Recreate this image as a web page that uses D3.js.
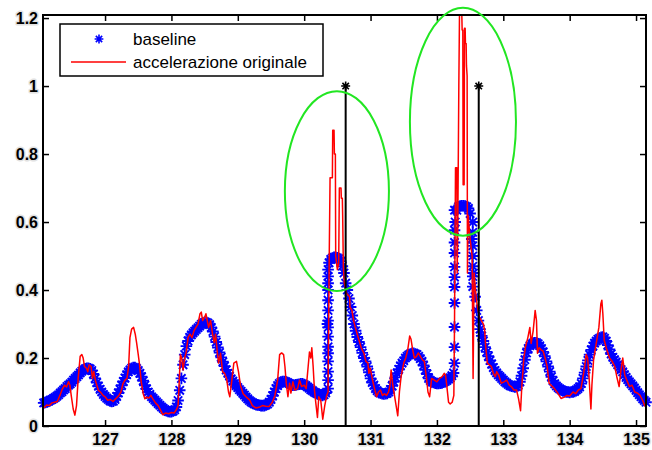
<!DOCTYPE html>
<html>
<head>
<meta charset="utf-8">
<script src="https://cdn.jsdelivr.net/npm/d3@7"></script>
<style>
  body { margin: 0; background: #fff; }
  svg { display: block; }
  text { font-family: Arial, "Liberation Sans", sans-serif; }
</style>
</head>
<body>
<svg id="chart" width="652" height="450"></svg>
<script>
// ---- axis ticks ----
const xTicks = [127, 128, 129, 130, 131, 132, 133, 134, 135];
const yTicks = [0, 0.2, 0.4, 0.6, 0.8, 1, 1.2];
const yTickLabels = ["0", "0.2", "0.4", "0.6", "0.8", "1", "1.2"];

// ---- baseline, one sample every 0.025 s starting at 126.075 s ----
const baselineStart = 126.075;
const baselineStep = 0.025;
const baselineValues = [
  0.068,0.069,0.071,0.073,0.076,0.078,0.081,0.084,0.088,0.092,0.097,0.101,0.106,0.110,0.116,0.120,0.124,0.129,0.135,0.140,
  0.145,0.150,0.156,0.161,0.165,0.168,0.170,0.170,0.168,0.163,0.153,0.140,0.128,0.117,0.108,0.100,0.093,0.087,0.082,0.078,
  0.074,0.072,0.073,0.078,0.087,0.097,0.108,0.120,0.131,0.141,0.151,0.159,0.165,0.170,0.172,0.172,0.169,0.163,0.155,0.145,
  0.133,0.120,0.109,0.100,0.093,0.086,0.081,0.076,0.071,0.066,0.061,0.056,0.052,0.048,0.045,0.043,0.042,0.042,0.044,0.048,
  0.056,0.075,0.105,0.140,0.180,0.210,0.235,0.250,0.261,0.268,0.274,0.279,0.284,0.289,0.294,0.299,0.303,0.305,0.305,0.303,
  0.298,0.290,0.278,0.263,0.247,0.231,0.216,0.202,0.189,0.176,0.165,0.155,0.147,0.139,0.132,0.125,0.119,0.113,0.107,0.102,
  0.096,0.091,0.085,0.080,0.075,0.071,0.068,0.065,0.063,0.062,0.061,0.060,0.060,0.060,0.062,0.065,0.070,0.078,0.089,0.100,
  0.110,0.119,0.125,0.129,0.131,0.131,0.130,0.128,0.125,0.122,0.120,0.120,0.121,0.122,0.123,0.124,0.124,0.122,0.119,0.115,
  0.111,0.107,0.104,0.100,0.097,0.095,0.093,0.091,0.090,0.092,0.097,0.300,0.480,0.490,0.494,0.496,0.496,0.495,0.492,0.485,
  0.470,0.450,0.420,0.400,0.375,0.350,0.325,0.300,0.280,0.262,0.247,0.232,0.215,0.200,0.190,0.175,0.158,0.140,0.128,0.120,
  0.110,0.104,0.099,0.097,0.095,0.094,0.095,0.096,0.100,0.107,0.118,0.130,0.143,0.155,0.167,0.177,0.185,0.192,0.200,0.205,
  0.209,0.212,0.214,0.214,0.212,0.210,0.205,0.198,0.190,0.178,0.165,0.153,0.140,0.134,0.130,0.128,0.126,0.125,0.125,0.126,
  0.127,0.129,0.131,0.134,0.138,0.142,0.148,0.156,0.600,0.635,0.645,0.647,0.648,0.648,0.647,0.645,0.640,0.625,0.550,0.450,
  0.380,0.340,0.310,0.285,0.265,0.250,0.232,0.218,0.205,0.193,0.182,0.172,0.163,0.156,0.150,0.145,0.140,0.135,0.130,0.126,
  0.122,0.119,0.117,0.116,0.115,0.116,0.120,0.130,0.148,0.170,0.195,0.215,0.228,0.236,0.241,0.244,0.245,0.245,0.242,0.236,
  0.228,0.218,0.205,0.190,0.175,0.160,0.145,0.133,0.124,0.118,0.113,0.109,0.106,0.104,0.102,0.100,0.100,0.099,0.100,0.100,
  0.102,0.106,0.110,0.115,0.125,0.140,0.157,0.175,0.193,0.210,0.224,0.235,0.244,0.250,0.255,0.258,0.261,0.262,0.258,0.250,
  0.238,0.225,0.212,0.202,0.195,0.188,0.180,0.173,0.166,0.159,0.151,0.143,0.136,0.130,0.124,0.118,0.112,0.105,0.098,0.092,
  0.086,0.080,0.075,0.070
];

// extra baseline samples bunched on the three steep edges
const baselineEdgeTimes = [130.36, 132.265, 132.54];
const baselineEdgeValues = [
  [0.11,0.135,0.16,0.19,0.214,0.233,0.263,0.29,0.31,0.34,0.37,0.40,0.42,0.44,0.46],
  [0.185,0.232,0.291,0.362,0.409,0.438,0.468,0.509,0.54,0.576,0.635],
  [0.60,0.57,0.53,0.50,0.47,0.44,0.41]
];

// original acceleration trace: [time (s), value]
const accel = [
  [126.065,0.055],[126.09,0.055],[126.12,0.062],[126.16,0.06],[126.2,0.068],[126.24,0.07],[126.28,0.072],[126.32,0.09],
  [126.35,0.106],[126.39,0.12],[126.42,0.115],[126.45,0.13],[126.47,0.12],[126.49,0.09],[126.52,0.05],[126.545,0.032],
  [126.57,0.06],[126.595,0.14],[126.625,0.205],[126.65,0.21],[126.67,0.2],[126.69,0.175],[126.72,0.17],[126.74,0.16],
  [126.76,0.18],[126.79,0.175],[126.81,0.14],[126.83,0.16],[126.86,0.13],[126.9,0.105],[126.93,0.1],[126.97,0.09],
  [127.0,0.086],[127.04,0.076],[127.08,0.078],[127.12,0.072],[127.16,0.08],[127.2,0.088],[127.24,0.1],[127.27,0.125],
  [127.3,0.135],[127.33,0.14],[127.355,0.175],[127.375,0.26],[127.4,0.285],[127.43,0.29],[127.455,0.27],[127.475,0.245],
  [127.5,0.21],[127.52,0.18],[127.545,0.13],[127.575,0.095],[127.6,0.08],[127.63,0.085],[127.66,0.082],[127.69,0.09],
  [127.72,0.08],[127.76,0.068],[127.8,0.06],[127.84,0.045],[127.87,0.033],[127.91,0.038],[127.96,0.036],[128.0,0.04],
  [128.04,0.038],[128.08,0.05],[128.1,0.06],[128.115,0.12],[128.135,0.21],[128.155,0.2],[128.175,0.165],[128.2,0.2],
  [128.225,0.22],[128.25,0.26],[128.28,0.27],[128.31,0.26],[128.34,0.28],[128.37,0.29],[128.4,0.3],[128.43,0.33],
  [128.45,0.335],[128.47,0.31],[128.5,0.32],[128.52,0.33],[128.54,0.31],[128.56,0.29],[128.59,0.31],[128.62,0.27],
  [128.645,0.245],[128.665,0.27],[128.69,0.22],[128.71,0.185],[128.74,0.214],[128.77,0.16],[128.8,0.155],[128.83,0.14],
  [128.86,0.1],[128.88,0.086],[128.91,0.135],[128.94,0.185],[128.98,0.19],[129.01,0.16],[129.04,0.12],[129.08,0.095],
  [129.13,0.085],[129.18,0.076],[129.22,0.06],[129.27,0.053],[129.32,0.055],[129.37,0.06],[129.42,0.058],[129.47,0.057],
  [129.52,0.07],[129.56,0.09],[129.6,0.135],[129.63,0.21],[129.66,0.215],[129.69,0.21],[129.71,0.175],[129.73,0.126],
  [129.755,0.086],[129.78,0.126],[129.8,0.097],[129.83,0.13],[129.86,0.106],[129.9,0.11],[129.93,0.135],[129.96,0.116],
  [130.0,0.12],[130.03,0.11],[130.06,0.175],[130.08,0.218],[130.1,0.2],[130.115,0.23],[130.135,0.175],[130.155,0.106],
  [130.175,0.068],[130.2,0.025],[130.22,0.086],[130.25,0.075],[130.28,0.02],[130.31,0.06],[130.34,0.09],[130.36,0.1],
  [130.375,0.45],[130.39,0.73],[130.425,0.73],[130.43,0.87],[130.45,0.87],[130.455,0.8],[130.47,0.8],[130.475,0.5],
  [130.5,0.46],[130.52,0.48],[130.53,0.7],[130.555,0.7],[130.56,0.67],[130.575,0.67],[130.58,0.62],[130.59,0.47],
  [130.605,0.42],[130.64,0.39],[130.685,0.38],[130.69,0.35],[130.72,0.34],[130.745,0.31],[130.77,0.29],[130.8,0.27],
  [130.83,0.25],[130.86,0.23],[130.9,0.214],[130.93,0.19],[130.96,0.185],[130.975,0.155],[130.995,0.17],[131.03,0.135],
  [131.06,0.11],[131.09,0.086],[131.12,0.1],[131.15,0.106],[131.18,0.09],[131.21,0.095],[131.24,0.09],[131.27,0.1],
  [131.29,0.116],[131.31,0.165],[131.335,0.12],[131.36,0.09],[131.385,0.06],[131.41,0.03],[131.435,0.1],[131.46,0.145],
  [131.5,0.185],[131.53,0.2],[131.56,0.224],[131.59,0.265],[131.61,0.255],[131.635,0.224],[131.66,0.2],[131.69,0.204],
  [131.72,0.215],[131.75,0.205],[131.78,0.195],[131.81,0.19],[131.84,0.145],[131.865,0.1],[131.89,0.086],[131.92,0.14],
  [131.96,0.135],[132.0,0.13],[132.04,0.14],[132.08,0.145],[132.11,0.155],[132.13,0.15],[132.15,0.116],[132.175,0.07],
  [132.2,0.065],[132.23,0.07],[132.255,0.09],
  [132.265,0.3],[132.28,0.76],[132.3,0.76],[132.305,0.45],[132.315,0.6],[132.33,1.0],[132.34,1.21],[132.375,1.21],
  [132.38,1.165],[132.39,1.165],[132.395,0.71],[132.41,0.71],[132.415,1.17],[132.425,1.17],[132.43,1.125],[132.44,1.125],
  [132.445,1.06],[132.455,1.03],[132.46,0.45],[132.47,0.62],[132.5,0.55],[132.53,0.5],[132.545,0.14],[132.56,0.45],
  [132.58,0.4],[132.61,0.35],[132.64,0.32],[132.67,0.31],[132.7,0.3],[132.72,0.28],[132.735,0.233],[132.76,0.185],
  [132.79,0.18],[132.82,0.175],[132.85,0.155],[132.88,0.145],[132.9,0.16],[132.93,0.15],[132.97,0.126],[133.01,0.13],
  [133.05,0.135],[133.09,0.12],[133.12,0.116],[133.16,0.106],[133.2,0.106],[133.23,0.08],[133.26,0.045],[133.28,0.12],
  [133.31,0.2],[133.335,0.233],[133.37,0.26],[133.4,0.29],[133.42,0.243],[133.45,0.28],[133.48,0.34],[133.5,0.31],
  [133.515,0.214],[133.54,0.23],[133.57,0.224],[133.6,0.22],[133.63,0.2],[133.66,0.175],[133.69,0.126],[133.72,0.12],
  [133.77,0.11],[133.82,0.097],[133.87,0.081],[133.92,0.085],[133.96,0.09],[134.0,0.088],[134.05,0.1],[134.09,0.095],
  [134.13,0.106],[134.17,0.11],[134.21,0.155],[134.25,0.21],[134.27,0.2],[134.29,0.15],[134.32,0.05],[134.335,0.12],
  [134.36,0.194],[134.4,0.243],[134.44,0.29],[134.47,0.36],[134.485,0.37],[134.5,0.33],[134.52,0.253],[134.56,0.224],
  [134.6,0.2],[134.64,0.19],[134.68,0.175],[134.71,0.145],[134.745,0.116],[134.77,0.16],[134.8,0.2],[134.83,0.15],
  [134.86,0.135],[134.9,0.116],[134.94,0.12],[134.98,0.1],[135.02,0.097],[135.06,0.09],[135.1,0.075],[135.13,0.06],
  [135.15,0.055]
];

// detected events (stems)
const eventTimes = [130.625, 132.63];
const eventValues = [1, 1];

// highlighted regions: centre time/value and half extents
const regionCenterTime = [130.493, 132.392];
const regionCenterValue = [0.691, 0.895];
const regionHalfTime = [0.784, 0.799];
const regionHalfValue = [0.294, 0.335];

// ---- drawing ----
const svg = d3.select("#chart");
svg.append("rect").attr("width", 652).attr("height", 450).attr("fill", "#fff");

const x = d3.scaleLinear().domain([126.065, 135.15]).range([43, 646]);
const y = d3.scaleLinear().domain([0, 1.209]).range([426, 15]);

// asterisk marker (plus + cross)
function asterisk(r) {
  const d = r * 0.72;
  return `M${-r},0L${r},0M0,${-r}L0,${r}M${-d},${-d}L${d},${d}M${-d},${d}L${d},${-d}`;
}

// baseline samples
const basePoints = baselineValues.map((v, i) => ({ t: baselineStart + i * baselineStep, v }));
baselineEdgeTimes.forEach((t, k) => baselineEdgeValues[k].forEach(v => basePoints.push({ t, v })));

svg.append("g")
  .selectAll("path")
  .data(basePoints)
  .join("path")
  .attr("transform", d => `translate(${x(d.t)},${y(d.v)})`)
  .attr("d", asterisk(5.8))
  .attr("fill", "none")
  .attr("stroke", "#0000ff")
  .attr("stroke-width", 1.9);

// acceleration trace
svg.append("path")
  .datum(accel)
  .attr("d", d3.line().x(d => x(d[0])).y(d => y(d[1])))
  .attr("fill", "none")
  .attr("stroke", "#ff0000")
  .attr("stroke-width", 1.5)
  .attr("stroke-linejoin", "round");

// event stems with markers
const events = eventTimes.map((t, i) => ({ t, v: eventValues[i] }));
svg.append("g").selectAll("line").data(events).join("line")
  .attr("x1", d => x(d.t)).attr("x2", d => x(d.t))
  .attr("y1", y(0)).attr("y2", d => y(d.v))
  .attr("stroke", "#000").attr("stroke-width", 2);
svg.append("g").selectAll("path").data(events).join("path")
  .attr("transform", d => `translate(${x(d.t)},${y(d.v)})`)
  .attr("d", asterisk(4.5))
  .attr("fill", "none").attr("stroke", "#000").attr("stroke-width", 1.6);

// axes box
svg.append("rect")
  .attr("x", x.range()[0]).attr("y", y.range()[1])
  .attr("width", x.range()[1] - x.range()[0])
  .attr("height", y.range()[0] - y.range()[1])
  .attr("fill", "none").attr("stroke", "#000").attr("stroke-width", 2);

function styleAxis(g, withLabels) {
  g.select(".domain").remove();
  g.selectAll(".tick line").attr("stroke", "#000").attr("stroke-width", 1.5);
  if (withLabels) {
    g.selectAll(".tick text")
      .attr("fill", "#000")
      .style("font-size", "16px")
      .style("font-weight", "bold")
      .style("paint-order", "stroke")
      .attr("stroke", "#e2e2e2")
      .attr("stroke-width", 3)
      .attr("stroke-linejoin", "round");
  } else {
    g.selectAll(".tick text").remove();
  }
}

svg.append("g").attr("transform", `translate(0,${y(0)})`)
  .call(d3.axisBottom(x).tickValues(xTicks).tickSize(-6).tickSizeOuter(0).tickPadding(8).tickFormat(d3.format("d")))
  .call(g => styleAxis(g, true));
svg.append("g").attr("transform", `translate(0,${y.range()[1]})`)
  .call(d3.axisTop(x).tickValues(xTicks).tickSize(-6).tickSizeOuter(0))
  .call(g => styleAxis(g, false));
svg.append("g").attr("transform", `translate(${x.range()[0]},0)`)
  .call(d3.axisLeft(y).tickValues(yTicks).tickSize(-6).tickSizeOuter(0).tickPadding(5)
    .tickFormat((d, i) => yTickLabels[i]))
  .call(g => styleAxis(g, true));
svg.append("g").attr("transform", `translate(${x.range()[1]},0)`)
  .call(d3.axisRight(y).tickValues(yTicks).tickSize(-6).tickSizeOuter(0))
  .call(g => styleAxis(g, false));

// highlighted regions
svg.append("g").selectAll("ellipse")
  .data(regionCenterTime.map((t, i) => ({ t, v: regionCenterValue[i], ht: regionHalfTime[i], hv: regionHalfValue[i] })))
  .join("ellipse")
  .attr("cx", d => x(d.t)).attr("cy", d => y(d.v))
  .attr("rx", d => x(d.t + d.ht) - x(d.t))
  .attr("ry", d => y(d.v - d.hv) - y(d.v))
  .attr("fill", "none").attr("stroke", "#22e622").attr("stroke-width", 2);

// legend
const legend = svg.append("g").attr("transform", "translate(60,24)");
legend.append("rect").attr("width", 263).attr("height", 52)
  .attr("fill", "#fff").attr("stroke", "#000").attr("stroke-width", 1.5);
legend.append("path").attr("transform", "translate(39,15)").attr("d", asterisk(4.4))
  .attr("fill", "none").attr("stroke", "#0000ff").attr("stroke-width", 1.6);
legend.append("line").attr("x1", 11).attr("x2", 66).attr("y1", 38).attr("y2", 38)
  .attr("stroke", "#ff0000").attr("stroke-width", 1.5);
legend.append("text").attr("x", 73).attr("y", 21).style("font-size", "17px").text("baseline");
legend.append("text").attr("x", 73).attr("y", 44).style("font-size", "17px").text("accelerazione originale");
</script>
</body>
</html>
